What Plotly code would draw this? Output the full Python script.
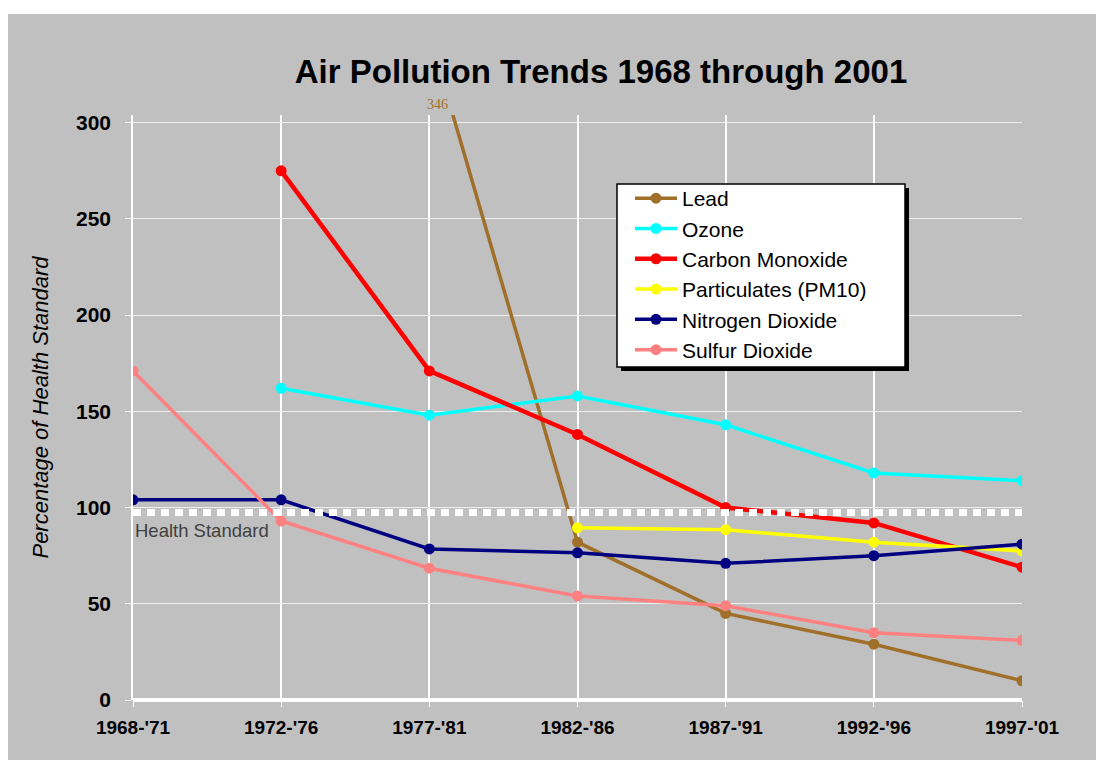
import plotly.graph_objects as go

periods = ["1968-'71", "1972-'76", "1977-'81", "1982-'86", "1987-'91", "1992-'96", "1997-'01"]

lead = [None, None, 346, 82, 45, 29, 10]
ozone = [None, 162, 148, 158, 143, 118, 114]
carbon_monoxide = [None, 275, 171, 138, 100, 92, 69]
particulates = [None, None, None, 89.5, 88.5, 82, 77.5]
nitrogen_dioxide = [104, 104, 78.5, 76.5, 71, 75, 81]
sulfur_dioxide = [171, 93, 68.5, 54, 49, 35, 31]

health_standard = 97.5
lead_peak_label = "346"

series = [
    ("Lead", lead, "#A0702A", 3.5),
    ("Ozone", ozone, "#00FFFF", 3.5),
    ("Carbon Monoxide", carbon_monoxide, "#FF0000", 4.5),
    ("Particulates (PM10)", particulates, "#FFFF00", 3.5),
    ("Nitrogen Dioxide", nitrogen_dioxide, "#000080", 3.5),
    ("Sulfur Dioxide", sulfur_dioxide, "#FF8080", 3.5),
]

fig = go.Figure()
for name, vals, color, w in series:
    fig.add_trace(go.Scatter(
        x=periods, y=vals, name=name, mode="lines+markers",
        line=dict(color=color, width=w),
        marker=dict(color=color, size=11, symbol="circle"),
        connectgaps=False,
    ))

OFF = 8  # browser body margin
W, H = 1104 - OFF, 760 - OFF
L = 133 - OFF
T = 115 - OFF
B = H - (700 - OFF)
R = W - (1022 - OFF)
pw, ph = W - L - R, H - T - B


def px(xpage):
    return (xpage - OFF - L) / pw


def py(ypage):
    return (H - B - (ypage - OFF)) / ph


grey = "#C0C0C0"
font_main = "Liberation Sans, Arial, sans-serif"
shapes = [
    dict(type="rect", xref="paper", yref="paper", x0=px(8), x1=px(1110), y0=py(14), y1=py(770),
         fillcolor=grey, line=dict(width=0), layer="below"),
    dict(type="line", xref="x", yref="y", x0=0, x1=6, y0=health_standard, y1=health_standard,
         line=dict(color="white", width=7, dash="8px,6px"), layer="above"),
    # legend shadow and box
    dict(type="rect", xref="paper", yref="paper", x0=px(621), x1=px(909), y0=py(371), y1=py(188),
         fillcolor="black", line=dict(width=0), layer="above"),
    dict(type="rect", xref="paper", yref="paper", x0=px(617), x1=px(905), y0=py(367), y1=py(184),
         fillcolor="white", line=dict(color="black", width=1.5), layer="above"),
]

annotations = [
    dict(x=0, y=health_standard - 3, xref="x", yref="y", text="Health Standard", showarrow=False,
         xanchor="left", yanchor="top", xshift=0,
         font=dict(family=font_main, size=18.5, color="#404040")),
    dict(x=2, y=py(104), xref="x", yref="paper", text=lead_peak_label, showarrow=False,
         xanchor="center", yanchor="middle", xshift=8,
         font=dict(family="Liberation Serif, Times New Roman, serif", size=14, color="#A0702A")),
]

fig.update_layout(
    width=W, height=H,
    margin=dict(l=L, r=R, t=T, b=B),
    paper_bgcolor="white", plot_bgcolor=grey,
    title=dict(text="Air Pollution Trends 1968 through 2001", x=px(601), xanchor="center",
               xref="paper", y=1 - (71 - OFF) / H, yanchor="middle",
               font=dict(family=font_main, size=33, color="black", weight="bold")),
    shapes=shapes, annotations=annotations,
    showlegend=True,
    legend=dict(x=px(630), y=py(178), xanchor="left", yanchor="top",
                bgcolor="rgba(0,0,0,0)", borderwidth=0, itemwidth=42,
                font=dict(family=font_main, size=21, color="black"),
                traceorder="normal"),
    xaxis=dict(range=[0, 6], showgrid=True, gridcolor="white", gridwidth=1.5,
               ticks="outside", ticklen=6, tickcolor="white", showline=False, zeroline=False,
               ticklabelstandoff=4,
               tickfont=dict(family=font_main, size=19, color="black", weight="bold"),
               fixedrange=True),
    yaxis=dict(range=[0, 304], tickvals=[0, 50, 100, 150, 200, 250, 300], showgrid=True,
               gridcolor="#EEEEEE", gridwidth=1, ticks="outside", ticklen=6, tickcolor="white",
               showline=True, linecolor="white", linewidth=1.5,
               zeroline=True, zerolinecolor="white", zerolinewidth=4,
               ticklabelstandoff=10,
               tickfont=dict(family=font_main, size=21, color="black", weight="bold"),
               title=dict(text="Percentage of Health Standard", standoff=21,
                          font=dict(family=font_main, size=22, color="black", style="italic"))),
)

fig.write_html("out.html")
